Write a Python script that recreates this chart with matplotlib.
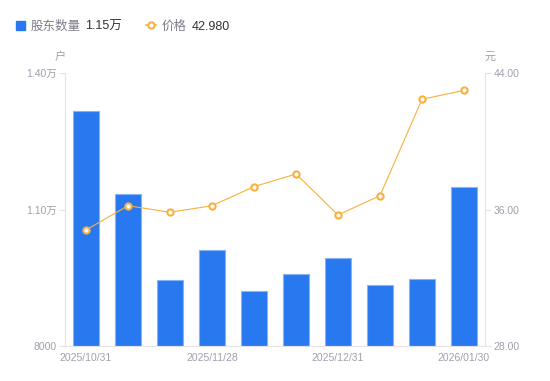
import matplotlib
matplotlib.use("Agg")
import matplotlib.pyplot as plt
from matplotlib.lines import Line2D

plt.rcParams['font.family'] = ['Liberation Sans', 'Noto Sans CJK SC', 'DejaVu Sans']

dates = ["2025/10/31", "", "", "2025/11/28", "", "", "2025/12/31", "", "", "2026/01/30"]
holders = [13165, 11340, 9460, 10110, 9200, 9590, 9930, 9330, 9465, 11500]
prices = [34.80, 36.22, 35.84, 36.22, 37.34, 38.08, 35.68, 36.81, 42.46, 42.98]
left_ticks = [8000, 11000, 14000]
left_labels = ["8000", "1.10万", "1.40万"]
right_ticks = [28, 36, 44]
right_labels = ["28.00", "36.00", "44.00"]

BLUE = "#2878F0"
EDGE = "#86B3F7"
ORANGE = "#FBB03B"
GRID = "#E3E3E8"
TXT = "#9FA0AD"

fig = plt.figure(figsize=(5.5, 3.81), dpi=100)
ax = fig.add_axes([65/550, 1-346/381, 420/550, 273/381])
x = list(range(len(holders)))
ax.bar(x, [h - 8000 for h in holders], bottom=8000, width=0.6, color=BLUE,
       edgecolor=EDGE, linewidth=0.8, zorder=2)
ax.set_xlim(-0.5, len(holders) - 0.5)
ax.set_ylim(8000, 14000)
ax.set_yticks(left_ticks)
ax.set_yticklabels(left_labels)
ax.set_xticks(x)
ax.set_xticklabels(dates)
ax.tick_params(axis='x', length=0, colors=TXT, labelsize=7.5, pad=5)
ax.tick_params(axis='y', length=4, width=0.8, color=GRID, colors=TXT, labelsize=7.5, pad=2)
for s in ['top', 'right']:
    ax.spines[s].set_visible(False)
for s in ['left', 'bottom']:
    ax.spines[s].set_color(GRID)
    ax.spines[s].set_linewidth(0.8)

ax2 = ax.twinx()
ax2.plot(x, prices, color=ORANGE, linewidth=0.8, marker='o', markersize=4.5,
         markerfacecolor='white', markeredgecolor=ORANGE, markeredgewidth=1.5, zorder=3)
ax2.set_ylim(28, 44)
ax2.set_yticks(right_ticks)
ax2.set_yticklabels(right_labels)
ax2.tick_params(axis='y', length=4, width=0.8, color=GRID, colors=TXT, labelsize=7.5, pad=2)
for s in ['top', 'left', 'bottom']:
    ax2.spines[s].set_visible(False)
ax2.spines['right'].set_color(GRID)
ax2.spines['right'].set_linewidth(0.8)

fig.text(60/550, 1-57/381, "户", color=TXT, fontsize=8, ha='center', va='center')
fig.text(490/550, 1-57/381, "元", color=TXT, fontsize=8, ha='center', va='center')

# legend
LY = 1 - 25/381
fig.patches.append(plt.Rectangle((16/550, LY - 4.5/381), 9/550, 9/381, transform=fig.transFigure,
                                 color=BLUE, figure=fig))
fig.text(31/550, LY, "股东数量", color="#7D7E8C", fontsize=9, va='center_baseline')
fig.text(85/550, LY, "1.15万", color="#333333", fontsize=9, va='center_baseline')
fig.lines.append(Line2D([146/550, 156/550], [LY, LY], transform=fig.transFigure,
                        color=ORANGE, linewidth=1.2))
fig.lines.append(Line2D([151/550], [LY], transform=fig.transFigure,
                        linestyle='none', marker='o', markersize=4.5,
                        markerfacecolor='white', markeredgecolor=ORANGE, markeredgewidth=1.5))
fig.text(162/550, LY, "价格", color="#7D7E8C", fontsize=9, va='center_baseline')
fig.text(192/550, LY, "42.980", color="#333333", fontsize=9, va='center_baseline')

fig.savefig("out.png", dpi=100)
